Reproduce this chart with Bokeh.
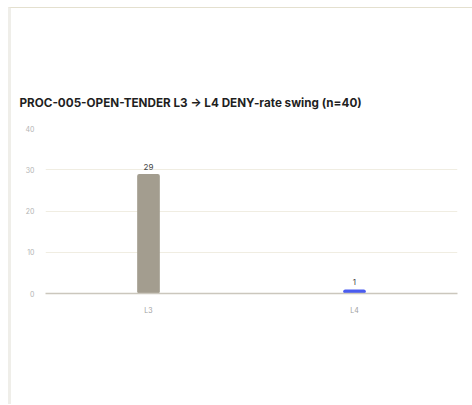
from bokeh.plotting import figure
from bokeh.models import ColumnDataSource, Range1d, FixedTicker
from bokeh.core.properties import value
from bokeh.embed import file_html
from bokeh.resources import INLINE

# DENY counts per level for PROC-005-OPEN-TENDER
levels = ["L3", "L4"]
deny_counts = [29, 1]
bar_colors = ["#a39d8f", "#4a5cf0"]
y_ticks = [0, 10, 20, 30, 40]
title_text = "PROC-005-OPEN-TENDER L3 \u2192 L4 DENY-rate swing (n=40)"

FONT = "Inter"

src = ColumnDataSource(dict(level=levels, count=deny_counts, color=bar_colors,
                            label=[str(v) for v in deny_counts]))

p = figure(
    x_range=levels,
    y_range=Range1d(0, 40),
    width=464, height=397,
    output_backend="svg",
    toolbar_location=None,
    min_border_left=34, min_border_right=18,
    min_border_top=120, min_border_bottom=112,
    title=title_text,
)
p.styles = {
    "margin-left": "8px",
    "margin-top": "7px",
    "border-left": "3px solid #efeee9",
    "border-top": "1px solid #e4e0cf",
}

p.title.text_font = FONT
p.title.text_font_size = "11.7px"
p.title.text_font_style = "bold"
p.title.text_color = "#1f1f1f"
p.title.align = "left"
p.title.offset = -26
p.title.standoff = 38

p.outline_line_color = None
p.background_fill_color = "white"
p.border_fill_color = "white"

p.vbar(x="level", top="count", width=0.11, source=src,
       fill_color="color", line_color=None, border_radius=2)

p.text(x="level", y="count", text="label", source=src,
       text_align="center", text_baseline="bottom", y_offset=-4,
       text_font=value(FONT), text_font_size="8px", text_color="#444444")

# axes
p.yaxis.ticker = FixedTicker(ticks=y_ticks)
p.yaxis.axis_line_color = None
p.yaxis.major_tick_line_color = None
p.yaxis.minor_tick_line_color = None
p.yaxis.major_label_text_font = FONT
p.yaxis.major_label_text_font_size = "7px"
p.yaxis.major_label_text_color = "#b4b4b4"
p.yaxis.major_label_standoff = 5

p.xaxis.axis_line_color = "#cbc7bd"
p.xaxis.axis_line_width = 1.5
p.xaxis.major_tick_line_color = None
p.xaxis.minor_tick_line_color = None
p.xaxis.major_label_text_font = FONT
p.xaxis.major_label_text_font_size = "7px"
p.xaxis.major_label_text_color = "#a0a0a0"
p.xaxis.major_label_standoff = 6

p.xgrid.grid_line_color = None
p.ygrid.grid_line_color = "#f0ede2"
p.ygrid.grid_line_width = 1

open("out.html", "w").write(file_html(p, INLINE))
